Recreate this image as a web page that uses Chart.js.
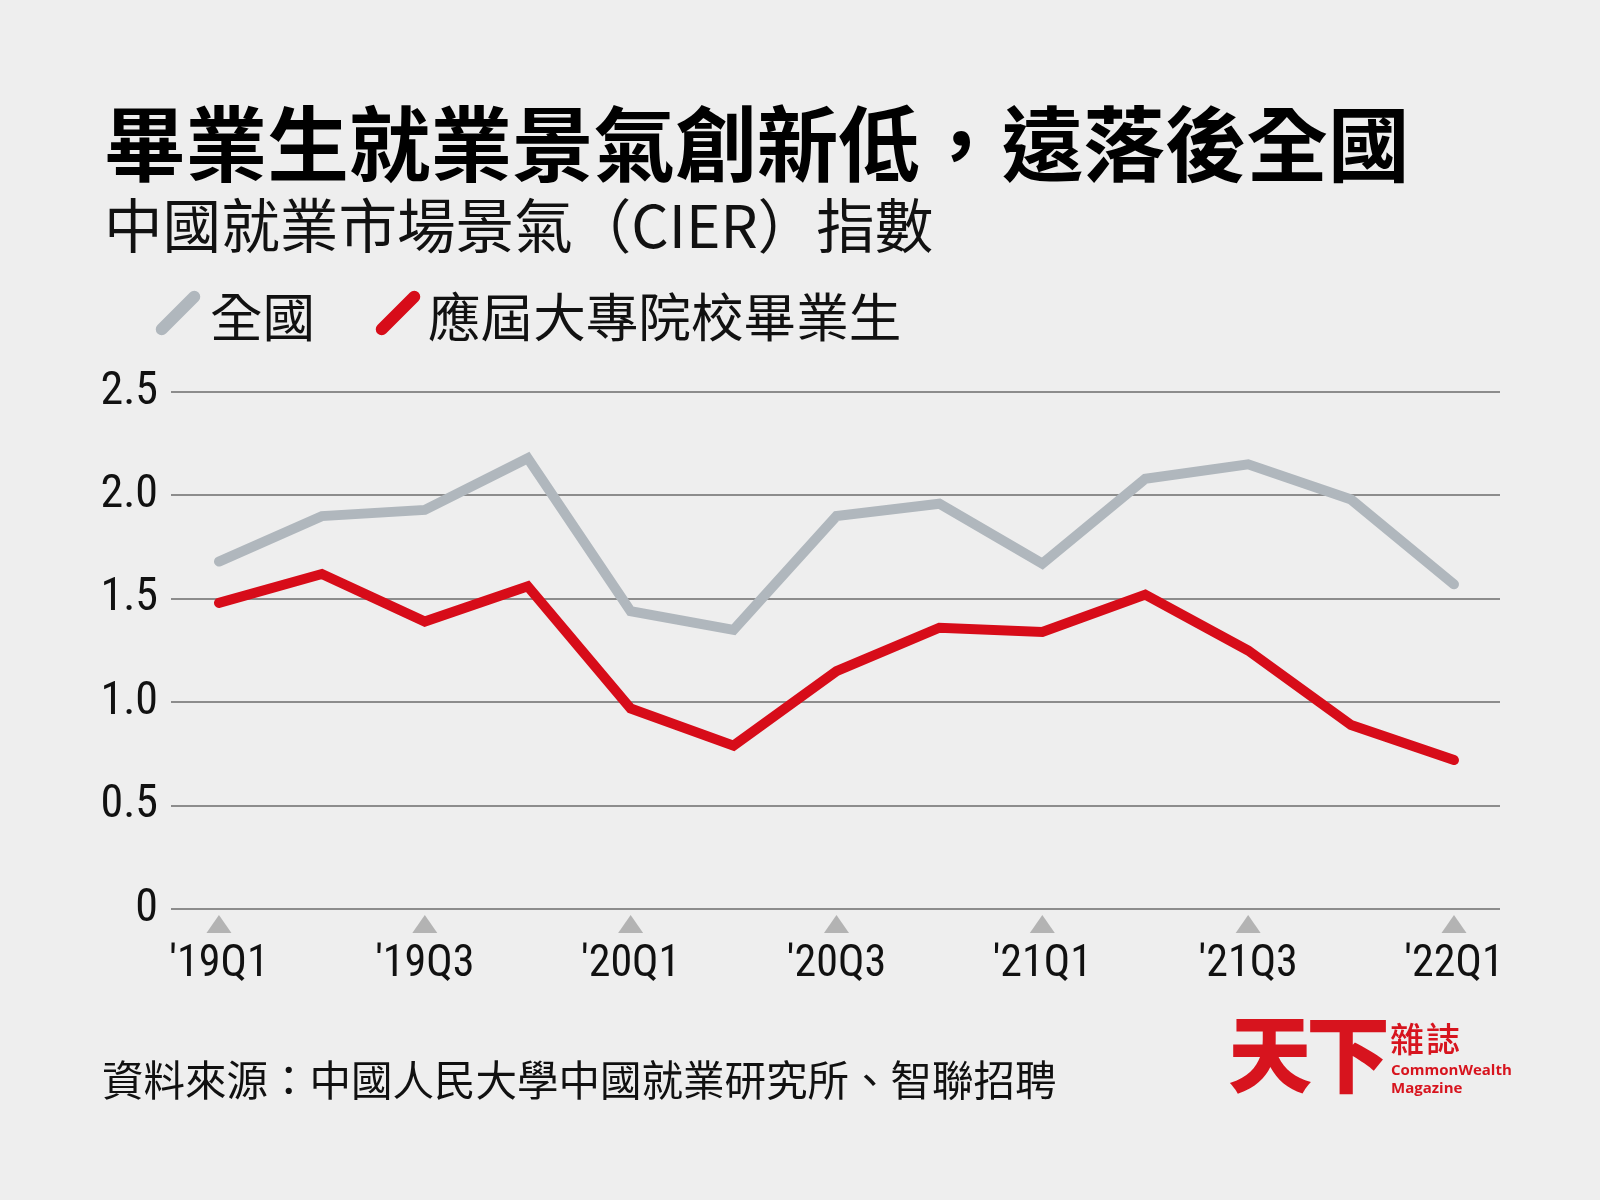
<!DOCTYPE html>
<html>
<head>
<meta charset="utf-8">
<script src="https://cdn.jsdelivr.net/npm/chart.js@4.4.0/dist/chart.umd.min.js"></script>
<style>
html,body{margin:0;padding:0;background:#eeeeee;}
#wrap{position:relative;width:1600px;height:1200px;overflow:hidden;background:#eeeeee;font-family:"Noto Sans CJK TC","Noto Sans CJK SC",sans-serif;color:#111;}
#c{position:absolute;left:0;top:0;}
.t{position:absolute;white-space:nowrap;line-height:1;margin:0;}
#title{left:104px;top:99px;font-size:81.6px;font-weight:700;color:#000;}
#subtitle{left:104px;top:194px;font-size:58.6px;font-weight:400;color:#111;}
.lg{top:288px;font-size:52.6px;font-weight:400;color:#111;}
.slash{position:absolute;width:12px;height:58px;border-radius:6px;transform:rotate(45deg);}
#source{left:102px;top:1058px;font-size:41.5px;font-weight:400;color:#111;}
#logo1{left:1228px;top:1008px;font-size:84px;font-weight:900;color:#d7141e;letter-spacing:-6px;}
#logo2{left:1390px;top:1021px;font-size:34px;font-weight:500;color:#d7141e;letter-spacing:2px;}
.logoen{left:1391px;font-family:"Open Sans",sans-serif;font-size:15px;font-weight:700;color:#d7141e;}
</style>
</head>
<body>
<div id="wrap">
<canvas id="c" width="1600" height="1200"></canvas>
<div class="t" id="title">畢業生就業景氣創新低，遠落後全國</div>
<div class="t" id="subtitle">中國就業市場景氣（CIER）指數</div>
<div class="slash" style="left:172px;top:284px;background:#b0b7bd;"></div>
<div class="t lg" style="left:210px;">全國</div>
<div class="slash" style="left:392px;top:284px;background:#d70c19;"></div>
<div class="t lg" style="left:428px;">應屆大專院校畢業生</div>
<div class="t" id="source">資料來源：中國人民大學中國就業研究所、智聯招聘</div>
<div class="t" id="logo1">天下</div>
<div class="t" id="logo2">雜誌</div>
<div class="t logoen" style="top:1062px;">CommonWealth</div>
<div class="t logoen" style="top:1080px;">Magazine</div>
</div>
<script>
// ---- data ----
const categories = ['19Q1','19Q2','19Q3','19Q4','20Q1','20Q2','20Q3','20Q4','21Q1','21Q2','21Q3','21Q4','22Q1'];
const tickLabels = ["'19Q1","","'19Q3","","'20Q1","","'20Q3","","'21Q1","","'21Q3","","'22Q1"];
const nationalValues = [1.68,1.90,1.93,2.18,1.44,1.35,1.90,1.96,1.67,2.08,2.15,1.98,1.57];
const graduateValues = [1.48,1.62,1.39,1.56,0.97,0.79,1.15,1.36,1.34,1.52,1.25,0.89,0.72];
const yTickValues = [0,0.5,1.0,1.5,2.0,2.5];
const yTickLabels = ['0','0.5','1.0','1.5','2.0','2.5'];
const seriesNames = ['全國','應屆大專院校畢業生'];

const numFont = '"Liberation Sans Narrow","Roboto Condensed","Roboto",sans-serif';

const triangles = {
  id:'triangles',
  afterDraw(chart){
    const xs = chart.scales.x, ctx = chart.ctx, b = chart.chartArea.bottom;
    ctx.save();
    ctx.fillStyle = '#b3b3b3';
    xs.ticks.forEach(t=>{
      const px = xs.getPixelForValue(t.value);
      ctx.beginPath();
      ctx.moveTo(px, b+6);
      ctx.lineTo(px+12.5, b+24);
      ctx.lineTo(px-12.5, b+24);
      ctx.closePath();
      ctx.fill();
    });
    ctx.restore();
  }
};

new Chart(document.getElementById('c'), {
  type:'line',
  data:{
    datasets:[
      {label:seriesNames[1], data:graduateValues.map((v,i)=>({x:i,y:v})), borderColor:'#d70c19', borderWidth:10, pointRadius:0, tension:0, borderCapStyle:'round', borderJoinStyle:'miter', fill:false},
      {label:seriesNames[0], data:nationalValues.map((v,i)=>({x:i,y:v})), borderColor:'#b0b7bd', borderWidth:10, pointRadius:0, tension:0, borderCapStyle:'round', borderJoinStyle:'miter', fill:false}
    ]
  },
  options:{
    responsive:false,
    animation:false,
    layout:{padding:{top:392,left:0,right:100,bottom:0}},
    plugins:{legend:{display:false},tooltip:{enabled:false}},
    scales:{
      x:{
        type:'linear', min:-0.466, max:12.447,
        grid:{display:false}, border:{display:false},
        afterBuildTicks:s=>{ s.ticks = categories.map((c,i)=>({value:i})).filter(t=>tickLabels[t.value]!==''); },
        ticks:{autoSkip:false, maxRotation:0, padding:22, color:'#111', font:{family:numFont,size:44}, callback:v=>tickLabels[v]},
        afterFit:s=>{ s.height = 291; }
      },
      y:{
        min:0, max:2.5,
        afterBuildTicks:s=>{ s.ticks = yTickValues.map(v=>({value:v})); },
        ticks:{padding:13, color:'#111', font:{family:numFont,size:46}, callback:v=>yTickLabels[yTickValues.indexOf(v)]},
        grid:{color:'#8c8c8c', lineWidth:2, drawTicks:false},
        border:{display:false},
        afterFit:s=>{ s.width = 171; }
      }
    }
  },
  plugins:[triangles]
});
</script>
</body>
</html>
